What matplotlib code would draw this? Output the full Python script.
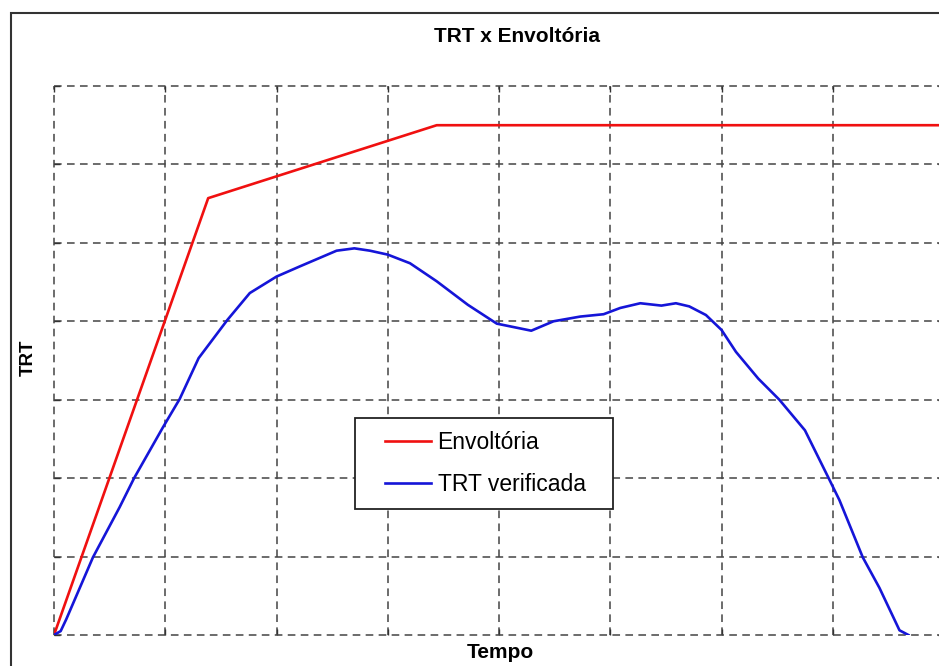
import matplotlib.pyplot as plt
from matplotlib.patches import Rectangle
from matplotlib.legend_handler import HandlerLine2D

plt.rcParams['font.family'] = ['Liberation Sans', 'DejaVu Sans']

# envelope (red) and measured TRT (blue), in grid units
env_x = [0, 1.386, 3.44, 8.0]
env_y = [0, 5.57, 6.5, 6.5]

trt_x = [0, 0.06, 0.11, 0.35, 0.59, 0.72, 0.98, 1.13, 1.30, 1.56, 1.76, 2.0,
         2.21, 2.54, 2.70, 2.84, 3.0, 3.20, 3.44, 3.72, 3.98, 4.29, 4.49, 4.73,
         4.94, 5.09, 5.27, 5.46, 5.59, 5.71, 5.86, 6.0, 6.13, 6.33, 6.52, 6.75,
         6.97, 7.06, 7.27, 7.42, 7.60, 7.68]
trt_y = [0, 0.05, 0.2, 0.99, 1.63, 2.0, 2.65, 3.01, 3.53, 4.02, 4.36, 4.57,
         4.70, 4.90, 4.93, 4.90, 4.85, 4.74, 4.51, 4.21, 3.97, 3.88, 4.0, 4.06,
         4.09, 4.17, 4.23, 4.20, 4.23, 4.19, 4.08, 3.89, 3.61, 3.27, 3.0, 2.61,
         1.98, 1.72, 0.99, 0.60, 0.06, 0.0]

W, H = 939, 666
fig = plt.figure(figsize=(W / 100, H / 100), dpi=100)
ax = fig.add_axes([54 / W, 1 - 635 / H, 890 / W, 549 / H])

ax.plot(env_x, env_y, color='#f01010', lw=1.9, label='Envoltória')
ax.plot(trt_x, trt_y, color='#1515d8', lw=1.9, label='TRT verificada')

ax.set_xlim(0, 8)
ax.set_ylim(0, 7)
ax.set_xticks(range(0, 9))
ax.set_yticks(range(0, 8))
ax.tick_params(direction='in', length=4, width=1, color='#333333',
               labelbottom=False, labelleft=False, top=True, right=True)
for s in ax.spines.values():
    s.set_visible(False)
ax.grid(True, color='#444444', linestyle=(0, (5, 3.5)), linewidth=1.1)
for gl in ax.get_xgridlines() + ax.get_ygridlines():
    gl.set_clip_on(False)

# outer frame of the original figure
fig.patches.append(Rectangle((11 / W, -0.1), 1.2, 1 - 13 / H + 0.1,
                             transform=fig.transFigure, fill=False,
                             edgecolor='#333333', lw=1.5))

fig.text(517 / W, 1 - 36 / H, 'TRT x Envoltória', ha='center', va='center',
         fontsize=15, fontweight='bold')
fig.text(500 / W, 1 - 653 / H, 'Tempo', ha='center', va='center',
         fontsize=15, fontweight='bold')
fig.text(28 / W, 1 - 358 / H, 'TRT', ha='center', va='center', rotation=90,
         fontsize=13.5, fontweight='bold')

fs = 16.5
leg = ax.legend(loc='upper left',
                bbox_to_anchor=(355 / W, 1 - 507 / H, 258 / W, 89 / H),
                bbox_transform=fig.transFigure, mode='expand',
                borderaxespad=0, fontsize=fs, fancybox=False, framealpha=1,
                edgecolor='#222222', borderpad=0.55, labelspacing=0.85,
                handlelength=2.75, handletextpad=0.3,
                handler_map={plt.Line2D: HandlerLine2D(xpad=0.78)})
leg.get_frame().set_linewidth(1.3)

fig.savefig('out.png', dpi=100)
